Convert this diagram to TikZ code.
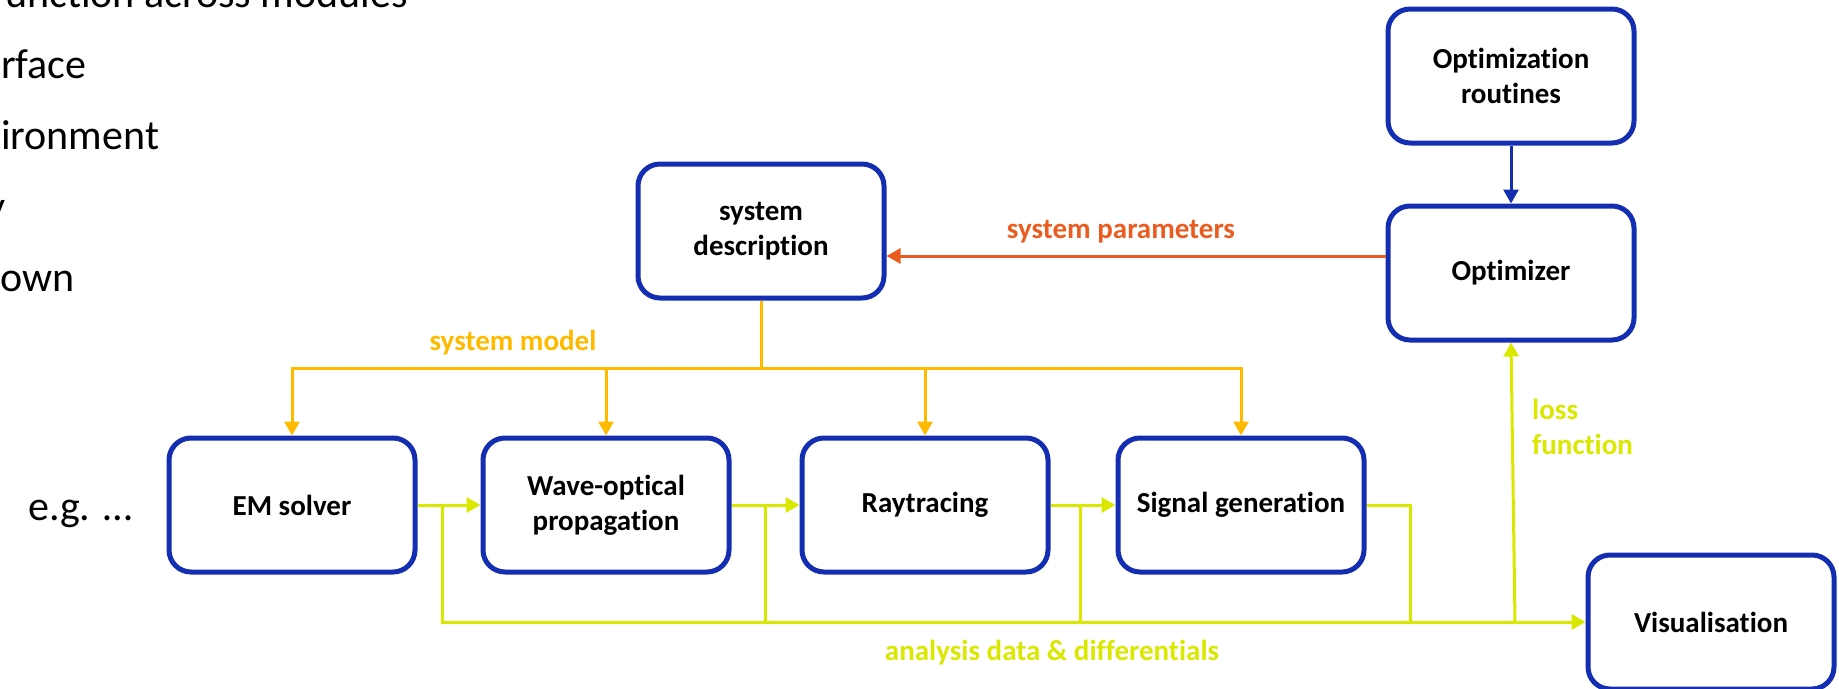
\documentclass[tikz,border=0pt]{standalone}
\usepackage{fontspec}
\setmainfont{Carlito}[Ligatures={NoCommon,NoContextual}]
\usepackage{xcolor}
\usepackage{tikz}
\usetikzlibrary{shapes.geometric, arrows.meta}
\definecolor{boxblue}{RGB}{20,46,178}
\definecolor{modelorange}{RGB}{255,186,0}
\definecolor{paramred}{RGB}{234,92,32}
\definecolor{datayellow}{RGB}{218,232,0}
\tikzstyle{module} = [draw=boxblue, line width=5pt, rounded corners=22pt, minimum width=246pt, minimum height=134pt, align=center, font=\bfseries\fontsize{29}{35}\selectfont]
\tikzstyle{arrow} = [line width=3pt,-{Triangle[length=14pt,width=15pt]}]
\tikzstyle{wire} = [line width=3pt]
\tikzstyle{lbl} = [font=\bfseries\fontsize{29}{35}\selectfont, align=left, inner sep=0pt]
\tikzstyle{side} = [font=\fontsize{42}{50}\selectfont, anchor=base west, inner sep=0pt]

\begin{document}
\begin{tikzpicture}[x=1pt,y=-1pt]
\useasboundingbox (0,0) rectangle (1839,688);
\clip (0,0) rectangle (1839,688);

% Text on the left (cut by the frame):
\node[side] (l1) at (5,7) {unction across modules};
\node[side] (l2) at (1,78) {rface};
\node[side] (l3) at (1,149) {ironment};
\node[side] (l4) at (-14,220) {y};
\node[side] (l5) at (0,291) {own};
\node[side] (eg) at (28,520) {e.g. \dots};

% Modules:
\node[module] (sysdesc) at (761,231) {system\\description};
\node[module] (optroutines) at (1511,76) {Optimization\\routines};
\node[module] (optimizer) at (1511,273) {Optimizer};
\node[module] (em) at (292,505) {EM solver};
\node[module] (wave) at (606,505) {Wave-optical\\propagation};
\node[module] (ray) at (925,505) {Raytracing};
\node[module] (signal) at (1241,505) {Signal generation};
\node[module] (visual) at (1711,622) {Visualisation};

% System model (orange):
\coordinate (split) at (761,368);
\draw[arrow, modelorange] (sysdesc.south) -- (split) -| (em.north);
\draw[arrow, modelorange] (split) -| (signal.north);
\draw[arrow, modelorange] (wave.north |- split) -- (wave.north);
\draw[arrow, modelorange] (ray.north |- split) -- (ray.north);
\node[lbl, text=modelorange] (modellbl) at (513,343) {system model};

% System parameters (red):
\coordinate (parmy) at (0,256);
\draw[arrow, paramred] (optimizer.west |- parmy) -- (sysdesc.east |- parmy);
\node[lbl, text=paramred] (parmlbl) at (1121,232) {system parameters};

% Optimization routines:
\draw[arrow, boxblue] (optroutines) -- (optimizer);

% Analysis data (yellow):
\coordinate (j1) at (442,505);
\coordinate (j2) at (765,505);
\coordinate (j3) at (1080,505);
\coordinate (sigdrop) at (1410,622);
\coordinate (lossfoot) at (1515,622);
\draw[arrow, datayellow] (em.east) -- (wave.west);
\draw[arrow, datayellow] (wave.east) -- (ray.west);
\draw[arrow, datayellow] (ray.east) -- (signal.west);
\draw[arrow, datayellow] (j1) |- (visual.west);
\draw[wire, datayellow] (j2) -- (j2 |- visual.west);
\draw[wire, datayellow] (j3) -- (j3 |- visual.west);
\draw[wire, datayellow] (signal.east) -| (sigdrop);
\draw[arrow, datayellow] (lossfoot) -- (optimizer.south);
\node[lbl, text=datayellow, anchor=west] (losslbl) at (1532,427) {loss\\function};
\node[lbl, text=datayellow] (datalbl) at (1052,653) {analysis data \& differentials};
\end{tikzpicture}
\end{document}
